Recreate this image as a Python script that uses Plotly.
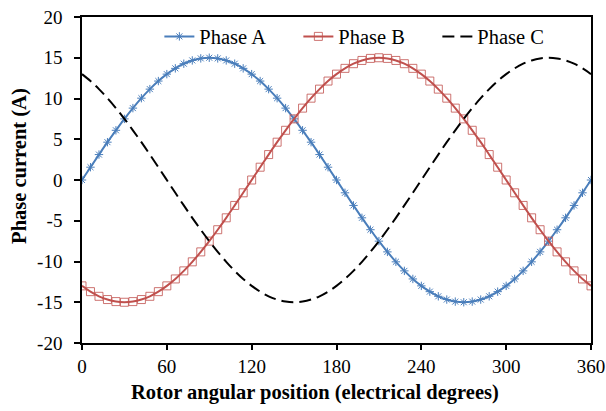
import plotly.graph_objects as go

theta = list(range(0, 361, 6))

phase_a = [0.00, 1.57, 3.12, 4.64, 6.10, 7.50, 8.82, 10.04, 11.15, 12.14, 12.99, 13.70, 14.27, 14.67, 14.92, 15.00,
           14.92, 14.67, 14.27, 13.70, 12.99, 12.14, 11.15, 10.04, 8.82, 7.50, 6.10, 4.64, 3.12, 1.57, 0.00,
           -1.57, -3.12, -4.64, -6.10, -7.50, -8.82, -10.04, -11.15, -12.14, -12.99, -13.70, -14.27, -14.67, -14.92, -15.00,
           -14.92, -14.67, -14.27, -13.70, -12.99, -12.14, -11.15, -10.04, -8.82, -7.50, -6.10, -4.64, -3.12, -1.57, 0.00]

phase_b = [-12.99, -13.70, -14.27, -14.67, -14.92, -15.00, -14.92, -14.67, -14.27, -13.70, -12.99, -12.14, -11.15, -10.04, -8.82, -7.50,
           -6.10, -4.64, -3.12, -1.57, 0.00, 1.57, 3.12, 4.64, 6.10, 7.50, 8.82, 10.04, 11.15, 12.14, 12.99,
           13.70, 14.27, 14.67, 14.92, 15.00, 14.92, 14.67, 14.27, 13.70, 12.99, 12.14, 11.15, 10.04, 8.82, 7.50,
           6.10, 4.64, 3.12, 1.57, 0.00, -1.57, -3.12, -4.64, -6.10, -7.50, -8.82, -10.04, -11.15, -12.14, -12.99]

phase_c = [12.99, 12.14, 11.15, 10.04, 8.82, 7.50, 6.10, 4.64, 3.12, 1.57, 0.00, -1.57, -3.12, -4.64, -6.10, -7.50,
           -8.82, -10.04, -11.15, -12.14, -12.99, -13.70, -14.27, -14.67, -14.92, -15.00, -14.92, -14.67, -14.27, -13.70, -12.99,
           -12.14, -11.15, -10.04, -8.82, -7.50, -6.10, -4.64, -3.12, -1.57, 0.00, 1.57, 3.12, 4.64, 6.10, 7.50,
           8.82, 10.04, 11.15, 12.14, 12.99, 13.70, 14.27, 14.67, 14.92, 15.00, 14.92, 14.67, 14.27, 13.70, 12.99]

x_ticks = [0, 60, 120, 180, 240, 300, 360]
y_ticks = [-20, -15, -10, -5, 0, 5, 10, 15, 20]

x_title = "Rotor angular position (electrical degrees)"
y_title = "Phase current (A)"

BLUE = "#4A7EBB"
RED = "#C0504D"
FONT = "Liberation Serif"

fig = go.Figure()
fig.add_trace(go.Scatter(
    x=theta, y=phase_a, name="Phase A", mode="lines+markers",
    line=dict(color=BLUE, width=2, shape="spline"),
    marker=dict(symbol="asterisk-open", size=7, color=BLUE, line=dict(color=BLUE, width=1)),
))
fig.add_trace(go.Scatter(
    x=theta, y=phase_b, name="Phase B", mode="lines+markers",
    line=dict(color=RED, width=2, shape="spline"),
    marker=dict(symbol="square-open", size=8, color="rgba(192,80,77,0.8)",
                line=dict(color="rgba(192,80,77,0.8)", width=1)),
))
fig.add_trace(go.Scatter(
    x=theta, y=phase_c, name="Phase C", mode="lines",
    line=dict(color="black", width=2, dash="12px,6px", shape="spline"),
))

fig.update_layout(
    width=606, height=411,
    margin=dict(l=82, r=15, t=17, b=68, autoexpand=False),
    paper_bgcolor="white", plot_bgcolor="white",
    font=dict(family=FONT, size=19, color="black"),
    showlegend=True,
    legend=dict(
        orientation="h", x=0.152, xanchor="left", y=0.94, yanchor="middle",
        bgcolor="rgba(0,0,0,0)", font=dict(family=FONT, size=20.5, color="black"),
        itemwidth=30, tracegroupgap=0, entrywidth=94, entrywidthmode="pixels",
    ),
    xaxis=dict(
        range=[0, 360], tickvals=x_ticks, ticktext=[str(v) for v in x_ticks],
        showgrid=False, zeroline=False, automargin=False,
        showline=True, linecolor="black", linewidth=1.5, mirror=True,
        ticks="outside", ticklen=5, tickwidth=1.5, tickcolor="black",
        tickfont=dict(family=FONT, size=19, color="black"),
    ),
    yaxis=dict(
        range=[-20, 20], tickvals=y_ticks, ticktext=[str(v) for v in y_ticks],
        showgrid=False, zeroline=False, automargin=False,
        showline=True, linecolor="black", linewidth=1.5, mirror=True,
        ticks="outside", ticklen=6, tickwidth=1.5, tickcolor="black",
        ticklabelstandoff=8,
        tickfont=dict(family=FONT, size=19, color="black"),
    ),
    annotations=[
        dict(text="<b>" + x_title + "</b>", xref="paper", yref="paper",
             x=0.458, y=-0.153, xanchor="center", yanchor="middle", showarrow=False,
             font=dict(family=FONT, size=20.5, color="black")),
        dict(text="<b>" + y_title + "</b>", xref="paper", yref="paper", textangle=-90,
             x=-0.122, y=0.543, xanchor="center", yanchor="middle", showarrow=False,
             font=dict(family=FONT, size=20.5, color="black")),
    ],
)

fig.write_html("out.html", config={"displayModeBar": False},
               post_script="document.body.style.margin='0';document.body.style.padding='0';")
